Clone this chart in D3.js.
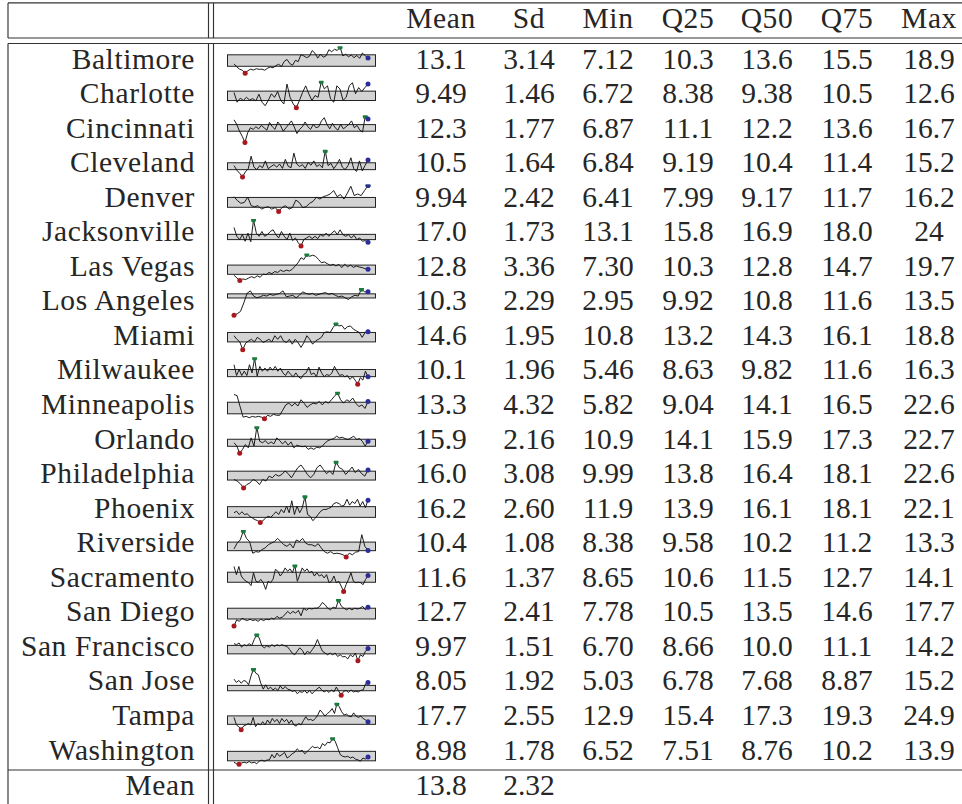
<!DOCTYPE html>
<html>
<head>
  <meta charset="utf-8">
  <script src="https://d3js.org/d3.v7.min.js"></script>
  <style>
    body { margin: 0; background: #fff; }
    svg { display: block; }
  </style>
</head>
<body>
<script>
  // table columns
  var cities = ["Baltimore", "Charlotte", "Cincinnati", "Cleveland", "Denver", "Jacksonville",
    "Las Vegas", "Los Angeles", "Miami", "Milwaukee", "Minneapolis", "Orlando", "Philadelphia",
    "Phoenix", "Riverside", "Sacramento", "San Diego", "San Francisco", "San Jose", "Tampa", "Washington"];
  var headers = ["Mean", "Sd", "Min", "Q25", "Q50", "Q75", "Max"];
  var meanCol = ["13.1","9.49","12.3","10.5","9.94","17.0","12.8","10.3","14.6","10.1","13.3","15.9","16.0","16.2","10.4","11.6","12.7","9.97","8.05","17.7","8.98"];
  var sdCol   = ["3.14","1.46","1.77","1.64","2.42","1.73","3.36","2.29","1.95","1.96","4.32","2.16","3.08","2.60","1.08","1.37","2.41","1.51","1.92","2.55","1.78"];
  var minCol  = ["7.12","6.72","6.87","6.84","6.41","13.1","7.30","2.95","10.8","5.46","5.82","10.9","9.99","11.9","8.38","8.65","7.78","6.70","5.03","12.9","6.52"];
  var q25Col  = ["10.3","8.38","11.1","9.19","7.99","15.8","10.3","9.92","13.2","8.63","9.04","14.1","13.8","13.9","9.58","10.6","10.5","8.66","6.78","15.4","7.51"];
  var q50Col  = ["13.6","9.38","12.2","10.4","9.17","16.9","12.8","10.8","14.3","9.82","14.1","15.9","16.4","16.1","10.2","11.5","13.5","10.0","7.68","17.3","8.76"];
  var q75Col  = ["15.5","10.5","13.6","11.4","11.7","18.0","14.7","11.6","16.1","11.6","16.5","17.3","18.1","18.1","11.2","12.7","14.6","11.1","8.87","19.3","10.2"];
  var maxCol  = ["18.9","12.6","16.7","15.2","16.2","24","19.7","13.5","18.8","16.3","22.6","22.7","22.6","22.1","13.3","14.1","17.7","14.2","15.2","24.9","13.9"];
  var footer = ["13.8", "2.32"];

  // sparkline series
  var baltimore = [11.4,10.0,9.0,8.5,7.12,8.3,9.0,8.6,9.2,8.9,9.0,8.5,9.4,10.0,9.6,10.6,11.2,10.2,12.5,13.4,11.5,10.8,13.0,12.4,15.6,15.0,14.2,14.8,17.4,16.2,14.0,15.8,14.4,15.1,17.8,16.9,18.0,17.5,18.9,15.0,15.8,14.6,15.4,14.2,15.2,13.9,16.3,15.1,14.0];
  var charlotte = [10.2,8.0,8.9,8.4,9.1,8.5,8.8,8.3,9.8,8.0,7.2,8.4,9.9,9.1,10.4,8.4,7.6,12.1,9.1,7.6,6.72,8.4,10.2,11.7,9.9,8.4,9.5,9.1,12.6,11.0,11.7,8.7,8.0,11.7,11.0,8.4,9.1,11.7,12.4,9.9,11.3,10.4,11.3,12.1];
  var cincinnati = [15.4,13.7,11.1,9.2,6.87,10.5,12.4,11.8,12.8,12.0,13.3,12.4,11.5,14.4,12.8,11.8,14.6,13.3,11.1,12.4,13.7,15.0,12.8,10.2,11.8,12.8,14.6,12.8,11.8,13.7,12.4,12.8,15.0,16.2,13.7,12.0,14.1,12.4,11.5,13.7,12.0,12.8,13.7,15.0,12.4,13.3,11.5,10.8,16.7,15.7];
  var cleveland = [10.5,9.0,8.0,6.84,8.5,9.5,13.5,10.0,9.2,10.5,9.8,12.0,9.5,10.2,10.8,10.0,11.0,9.6,12.5,10.3,9.8,14.5,11.0,10.2,10.8,9.6,11.5,10.6,12.0,10.2,10.8,9.8,15.2,10.5,11.2,9.5,10.8,12.5,10.0,9.2,10.5,13.0,9.5,8.6,12.0,8.8,10.6,12.3];
  var denver = [12.0,10.5,9.5,9.8,11.8,8.6,8.2,8.6,7.3,7.9,8.2,7.3,7.9,6.41,7.9,8.6,7.3,7.9,10.7,9.8,7.9,8.2,9.5,10.2,11.8,11.1,12.0,12.4,13.0,14.3,12.0,12.8,11.1,13.3,15.9,12.4,13.0,12.4,14.3,16.2];
  var jacksonville = [20.9,17.2,15.8,17.9,15.1,18.5,14.9,24,18.5,17.2,19.2,17.2,17.9,19.2,19.9,17.9,16.5,19.2,17.2,15.8,18.5,15.4,16.5,14.5,13.1,15.8,16.5,17.2,16.2,17.2,16.2,17.9,17.2,18.5,17.2,18.5,19.5,17.9,19.9,17.9,17.2,17.9,16.5,17.6,15.8,16.5,15.1,15.4,14.7];
  var lasVegas = [9.9,8.5,7.3,8.1,7.8,8.5,9.2,8.6,9.6,8.9,10.4,10.1,11.2,10.6,11.6,11.2,12.3,11.6,12.3,11.9,12.7,14.3,15.8,18.2,17.4,19.7,18.9,19.4,18.9,17.4,15.8,16.2,15.4,14.6,15.1,14.3,15.1,13.5,15.1,13.9,14.7,13.6,14.3,13.8,13.5,13.0,12.7];
  var losAngeles = [2.95,3.5,4.5,7.9,11.8,12.8,10.7,10.0,10.4,11.0,10.7,11.4,11.0,11.4,11.8,12.8,10.4,10.7,11.0,10.0,11.0,12.4,11.8,11.4,11.8,11.0,11.4,11.8,12.1,11.4,11.8,11.0,10.4,10.7,10.0,9.3,10.4,11.0,10.7,13.5,12.4,12.4];
  var miami = [15.1,14.0,13.2,10.8,12.8,13.5,14.0,13.2,14.6,14.0,13.0,13.5,14.0,13.2,15.1,14.0,15.1,13.5,13.0,14.0,12.5,14.0,13.0,11.5,13.0,15.1,14.0,12.5,13.5,14.0,14.6,16.1,16.3,16.1,17.6,18.8,18.1,18.3,17.1,17.9,18.1,17.1,16.6,16.1,14.6,16.1,16.3];
  var milwaukee = [13.6,9.1,11.6,9.1,10.9,9.1,13.6,10.2,16.3,8.9,12.9,10.9,12.2,10.9,12.6,11.3,12.9,10.9,12.2,10.2,9.1,10.9,9.5,8.6,10.2,8.6,7.8,9.5,10.2,12.6,9.5,10.2,8.6,12.6,10.2,8.6,9.5,9.1,10.2,12.9,10.9,9.1,9.5,8.6,9.1,7.5,8.6,7.2,5.46,8.2,7.2,10.9,8.6];
  var minneapolis = [21.5,20.8,13.7,6.9,7.4,6.5,7.4,6.9,7.4,6.9,5.82,8.1,7.4,8.7,8.1,8.1,11.4,14.8,15.9,14.1,15.9,14.1,18.1,15.9,13.2,14.8,15.9,15.4,17.0,14.8,17.0,15.9,18.1,20.4,22.6,18.1,15.9,18.1,17.0,19.2,15.9,13.7,14.8,12.5,17.0];
  var orlando = [15.7,14.2,10.9,12.7,14.9,13.4,17.9,14.2,22.7,16.4,15.7,16.7,15.2,16.1,15.2,17.9,16.7,15.2,16.4,14.6,16.1,13.4,14.6,14.2,13.9,14.2,12.7,13.4,12.7,13.7,13.4,14.2,15.7,16.7,17.2,17.6,18.7,17.9,18.2,17.6,17.2,17.9,18.7,17.2,17.6,16.4,14.2,16.4];
  var philadelphia = [14.1,13.3,12.0,9.99,11.6,12.4,14.1,13.3,11.6,14.1,13.3,15.7,14.9,16.5,15.7,16.5,18.2,16.9,14.9,17.4,19.8,21.1,19.0,16.5,14.9,16.5,19.8,21.1,19.0,16.9,18.2,16.5,22.6,19.8,19.0,16.5,18.2,20.1,17.4,19.0,16.9,15.7,18.7];
  var phoenix = [15.7,16.3,15.0,16.1,15.0,15.3,14.3,13.6,13.0,12.6,11.9,12.6,13.6,14.3,13.9,15.0,16.1,15.0,17.0,15.7,18.3,15.7,20.4,15.0,18.3,15.7,17.7,22.1,15.0,14.3,12.6,13.6,15.0,16.3,17.0,17.0,17.4,17.9,19.3,19.7,19.3,18.3,18.7,21.0,18.7,20.1,19.3,21.0,18.3,20.1,17.7,20.6];
  var riverside = [9.9,11.0,11.6,13.3,11.9,11.3,9.1,9.4,9.3,9.8,10.1,10.7,11.0,11.3,11.9,11.3,10.7,10.4,10.9,10.1,11.6,11.3,11.9,11.0,10.7,10.7,10.4,10.9,10.1,9.4,9.1,9.4,9.0,9.1,9.0,8.8,8.38,9.1,8.8,9.3,9.4,12.6,10.4,9.6];
  var sacramento = [13.9,12.2,13.9,11.9,11.2,10.8,10.5,9.9,12.6,10.8,10.6,11.2,10.5,9.1,10.8,10.5,11.2,13.3,12.9,11.9,12.6,13.6,12.9,13.4,12.6,14.1,10.8,12.2,13.6,12.9,13.4,12.6,12.9,11.9,12.6,11.9,12.2,11.5,12.2,10.5,10.8,11.9,10.5,10.8,9.8,8.65,10.1,11.2,12.6,10.8,10.5,10.6,10.5,10.1,11.2,12.0];
  var sanDiego = [7.78,10.2,9.6,10.8,10.2,9.9,10.4,9.9,10.2,9.6,10.4,9.9,10.4,10.2,10.8,10.4,11.5,10.8,11.2,12.1,13.4,12.5,13.4,12.7,13.8,11.7,14.6,13.8,14.6,14.3,14.6,14.6,15.3,16.8,15.9,14.6,14.0,15.0,14.6,17.7,15.5,14.6,14.0,14.6,14.0,14.6,14.3,14.6,15.3,14.0,15.0];
  var sanFrancisco = [11.6,11.3,11.8,10.6,11.3,11.0,11.6,11.0,12.8,14.2,13.2,11.0,10.4,11.0,10.6,11.3,10.8,11.3,11.0,11.3,11.0,10.8,9.9,8.9,8.4,9.4,10.4,9.7,8.4,9.4,8.9,9.9,11.0,12.8,11.0,9.4,8.9,8.4,8.9,8.4,8.9,7.9,8.4,7.8,7.9,7.2,8.4,7.8,8.9,6.70,8.4,7.9,9.4,10.2];
  var sanJose = [11.3,10.0,10.8,9.7,10.8,10.4,9.1,12.6,15.2,13.6,13.0,9.7,7.4,9.1,7.4,8.2,7.1,7.8,6.9,8.7,7.4,8.4,7.4,7.1,6.5,6.9,5.6,6.5,6.1,6.9,5.8,6.9,5.6,6.5,7.4,8.2,7.1,6.3,6.9,6.1,7.1,6.3,8.2,6.6,5.03,6.5,6.9,6.1,7.1,6.3,6.6,6.3,6.9,7.1,9.5,10.0];
  var tampa = [18.6,15.1,14.3,12.9,14.6,15.1,15.8,15.1,18.6,14.3,15.8,15.1,16.6,15.1,17.4,15.8,18.1,16.6,17.7,15.8,18.1,16.6,17.7,15.8,17.4,15.1,14.6,15.8,15.1,17.1,18.9,17.4,17.7,17.1,18.1,19.7,22.0,20.7,19.2,20.4,21.2,22.7,20.4,24.9,23.5,21.2,19.7,20.1,19.2,18.9,20.7,19.2,18.6,19.2,18.1,17.4,16.6];
  var washington = [7.1,6.7,6.52,6.9,7.1,6.9,7.3,6.9,7.1,6.7,7.4,7.7,7.4,7.7,7.8,9.3,8.3,9.7,8.8,9.3,9.9,8.3,8.8,9.5,9.9,10.9,10.2,10.5,9.5,10.2,10.9,11.6,11.2,11.4,10.9,12.4,11.8,12.8,12.6,13.9,13.1,11.2,9.3,8.8,8.6,8.8,8.3,8.6,8.0,7.8,7.4,8.3,8.0,8.6];

  var series = [baltimore, charlotte, cincinnati, cleveland, denver, jacksonville, lasVegas,
    losAngeles, miami, milwaukee, minneapolis, orlando, philadelphia, phoenix, riverside,
    sacramento, sanDiego, sanFrancisco, sanJose, tampa, washington];
  var columns = [meanCol, sdCol, minCol, q25Col, q50Col, q75Col, maxCol];

  var W = 962, H = 804;
  var font = "'Liberation Serif', 'Times New Roman', serif";
  var ruleColor = "#333", ruleW = 1.15;

  // layout of the tabular
  var xLeft = 8, xDbl1 = 208.5, xDbl2 = 213.5, labelRight = 195;
  var yTop = 2.9, yHead1 = 38, yHead2 = 43.5, yFoot = 770;
  var headBase = 28, footBase = 795;
  var rowBase = d3.scaleLinear().domain([0, 1]).range([68.5, 68.5 + 34.55]);
  var colX = d3.scaleOrdinal().domain(headers).range([441, 529, 608, 688, 767, 847, 929]);
  var boxX0 = 227.5, boxX1 = 375.5, lineX0 = 234, lineX1 = 368;

  var svg = d3.select("body").append("svg").attr("width", W).attr("height", H);
  var defs = svg.append("defs");

  // rules
  var rules = svg.append("g").attr("stroke", ruleColor).attr("stroke-width", ruleW);
  [yTop, yHead1, yHead2, yFoot].forEach(function(y) {
    rules.append("line").attr("x1", xLeft).attr("x2", W).attr("y1", y).attr("y2", y);
  });
  [xLeft, xDbl1, xDbl2].forEach(function(x) {
    rules.append("line").attr("x1", x).attr("x2", x).attr("y1", yTop).attr("y2", yHead1);
    rules.append("line").attr("x1", x).attr("x2", x).attr("y1", yHead2).attr("y2", H);
  });

  var txt = svg.append("g").attr("font-family", font).attr("font-size", 29.5).attr("fill", "#262626");

  // header
  txt.selectAll(".head").data(headers).join("text")
    .attr("class", "head")
    .attr("x", function(d) { return colX(d); })
    .attr("y", headBase)
    .attr("text-anchor", "middle")
    .attr("letter-spacing", 0.6)
    .text(function(d) { return d; });

  // city labels
  txt.selectAll(".city").data(cities).join("text")
    .attr("class", "city")
    .attr("x", labelRight)
    .attr("y", function(d, i) { return rowBase(i); })
    .attr("text-anchor", "end")
    .attr("letter-spacing", 0.6)
    .text(function(d) { return d; });

  // numbers
  columns.forEach(function(col, c) {
    txt.append("g").selectAll("text").data(col).join("text")
      .attr("x", colX(headers[c]))
      .attr("y", function(d, i) { return rowBase(i); })
      .attr("text-anchor", "middle")
      .text(function(d) { return d; });
  });

  // footer row
  txt.append("text").attr("x", labelRight).attr("y", footBase).attr("text-anchor", "end")
    .attr("letter-spacing", 0.6).text("Mean");
  footer.forEach(function(v, c) {
    txt.append("text").attr("x", colX(headers[c])).attr("y", footBase)
      .attr("text-anchor", "middle").text(v);
  });

  // sparklines
  series.forEach(function(vals, i) {
    var b = rowBase(i) - 0.5;
    var x = d3.scaleLinear().domain([0, vals.length - 1]).range([lineX0, lineX1]);
    var y = d3.scaleLinear().domain(d3.extent(vals)).range([b + 5.3, b - 20.7]);
    var g = svg.append("g");

    defs.append("clipPath").attr("id", "clip" + i)
      .append("rect").attr("x", boxX0 - 6).attr("width", boxX1 - boxX0 + 12)
      .attr("y", y(d3.max(vals)) - 1.1).attr("height", 40);
    g.attr("clip-path", "url(#clip" + i + ")");

    var q25 = +q25Col[i], q75 = +q75Col[i];
    g.append("rect")
      .attr("x", boxX0).attr("width", boxX1 - boxX0)
      .attr("y", y(q75)).attr("height", y(q25) - y(q75))
      .attr("fill", "#d3d3d3").attr("stroke", "#222").attr("stroke-width", 1);

    var line = d3.line().x(function(d, j) { return x(j); }).y(function(d) { return y(d); });
    g.append("path").datum(vals).attr("d", line)
      .attr("fill", "none").attr("stroke", "#111").attr("stroke-width", 0.95)
      .attr("stroke-linejoin", "round");

    var lo = d3.minIndex(vals), hi = d3.maxIndex(vals), last = vals.length - 1;
    [[lo, "#a8191f"], [hi, "#1b7a3c"], [last, "#2c2d96"]].forEach(function(p) {
      g.append("circle").attr("cx", x(p[0])).attr("cy", y(vals[p[0]]))
        .attr("r", 2.5).attr("fill", p[1]);
    });
  });
</script>
</body>
</html>
